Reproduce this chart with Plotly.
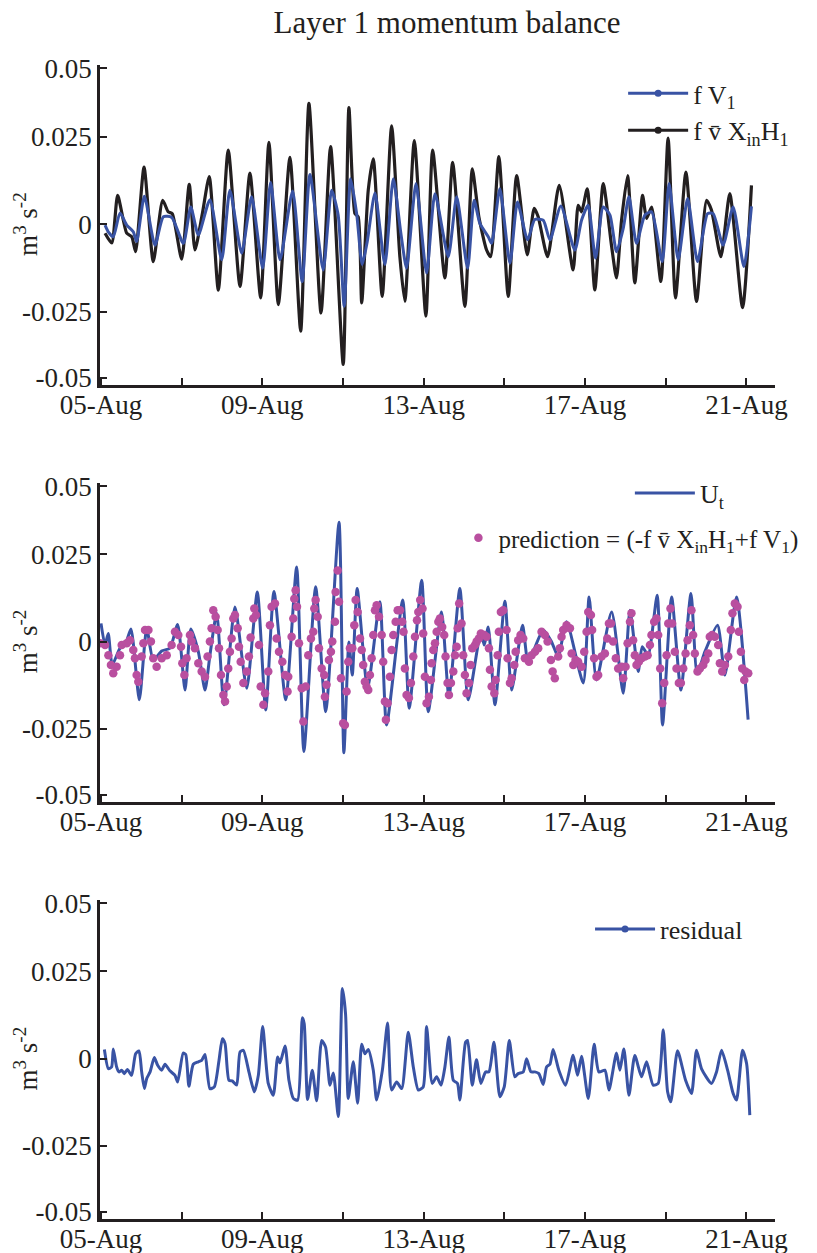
import pandas as pd
import plotly.graph_objects as go

# times are hours after 05-Aug 00:00, values are in 1e-3 m^3 s^-2
START = pd.Timestamp("2011-08-05")
TICK_LABELS = ["05-Aug", "09-Aug", "13-Aug", "17-Aug", "21-Aug"]

# panel 1: f*V1 (blue) and f*vbar*Xin*H1 (black)
BLACK_H = [2.4, 6.4, 9.9, 15.3, 18.3, 20.6, 25.6, 31.1, 36.7, 40.0, 42.4, 48.0, 52.5, 55.9, 60.3, 64.4, 69.8,
           75.7, 82.7, 88.6, 95.0, 99.9, 105.5, 112.4, 118.8, 123.7, 130.9, 136.6, 144.1, 147.5, 151.1, 153.0,
           155.1, 159.0, 162.0, 167.3, 172.9, 177.8, 180.8, 186.4, 193.3, 197.3, 204.6, 209.2, 216.5, 220.9,
           224.8, 229.4, 231.8, 236.7, 242.3, 247.3, 253.6, 257.7, 260.1, 265.7, 272.6, 280.9, 283.9, 285.9,
           289.3, 293.8, 298.8, 303.8, 306.7, 309.7, 313.3, 317.6, 322.2, 324.6, 327.6, 333.1, 337.4, 341.8,
           348.0, 354.3, 360.3, 363.2, 368.8, 374.1, 381.7, 387.0]
BLACK_V = [-2.6, -5.4, 8.2, -2.6, -3.6, -7.9, 16.3, -10.7, 6.8, 3.5, 3.0, -10.0, 11.4, -7.4, 3.0, 13.6, -18.9,
           21.2, -17.8, 14.6, -21.1, 23.4, -23.0, 19.1, -30.6, 34.5, -25.4, 22.2, -40.1, 33.3, 3.0, 2.1,
           -22.5, 9.7, 18.7, -20.7, 28.1, -9.3, -22.1, 23.9, -26.3, 21.2, -15.4, 17.7, -23.5, 15.8,
           2.1, -7.4, -9.3, 19.3, -20.7, 13.9, -8.8, 4.5, 2.1, -9.3, 11.1, -13.1, 5.4, 3.5,
           10.1, -18.8, 11.6, -6.4, -15.4, 1.1, 13.9, -16.8, 8.2, 1.6, 4.9, -16.4, 24.6, -21.1,
           14.9, -22.1, 6.8, 4.0, -9.3, 8.7, -23.9, 11.1]

FV1_H = [2.4, 4.3, 7.3, 11.3, 15.3, 19.2, 21.2, 25.8, 32.1, 37.1, 42.1, 49.0, 53.4, 57.9, 64.8, 71.8, 76.7,
         83.7, 89.6, 96.2, 100.9, 106.5, 114.0, 119.7, 124.3, 132.2, 137.2, 141.1, 144.7, 148.5, 152.1, 155.4,
         158.4, 163.0, 168.9, 173.9, 178.4, 181.8, 187.4, 193.7, 198.7, 206.6, 211.6, 218.1, 222.0, 225.4,
         230.4, 232.4, 237.3, 243.3, 247.8, 253.8, 258.1, 263.1, 267.1, 273.6, 281.9, 285.9, 289.8, 294.2,
         298.8, 302.8, 306.7, 310.7, 314.1, 318.6, 323.6, 327.6, 333.9, 338.0, 343.4, 349.0, 354.9, 360.9,
         364.2, 370.1, 376.1, 382.5, 387.0]
FV1_V = [-0.3, -2.2, -3.6, 3.2, -0.3, -2.2, -5.0, 8.0, -6.0, 2.1, 1.9, -5.5, 4.9, -3.1, 7.0, -10.2, 9.7,
         -8.3, 7.8, -12.6, 12.0, -10.2, 9.5, -16.4, 14.2, -13.1, 9.7, 2.6, -23.5, 13.0, 3.0, -11.6,
         -5.0, 8.9, -11.6, 13.0, -2.6, -12.6, 11.6, -14.0, 8.7, -9.3, 7.8, -12.6, 6.8, 0.2,
         -3.6, -5.5, 10.1, -11.2, 6.3, -4.5, 1.3, 1.1, -4.5, 5.2, -7.4, 1.1, 5.4, -9.7,
         4.9, 2.6, -7.9, -1.2, 7.8, -5.5, 2.6, 3.5, -10.7, 11.6, -10.2, 7.3, -10.7, 3.0,
         3.0, -6.0, 4.9, -12.1, 5.1]

# panel 2: U_t (line) and prediction (dots)
UT_H = [0.0, 2.4, 4.3, 6.7, 11.3, 14.3, 17.8, 22.8, 27.2, 31.1, 36.1, 41.0, 45.6, 50.0, 53.4, 57.9, 61.9, 64.8,
        68.8, 73.2, 79.7, 86.7, 93.0, 98.0, 102.9, 109.9, 116.4, 120.7, 127.7, 133.7, 141.6, 144.5, 147.5,
        149.5, 152.4, 158.6, 165.9, 169.9, 179.5, 183.4, 190.8, 194.7, 202.6, 207.0, 213.5, 218.5, 226.0,
        228.0, 230.4, 234.4, 240.3, 244.3, 250.8, 254.2, 263.1, 268.1, 272.0, 277.0, 286.9, 290.4, 294.8,
        303.8, 310.7, 314.7, 319.6, 322.0, 325.5, 330.9, 334.1, 339.5, 345.0, 351.0, 354.7, 359.3, 366.8,
        371.2, 378.1, 385.0]
UT_V = [5.2, -1.0, 2.3, -6.7, -1.9, -1.0, 3.6, -16.7, 3.8, -5.3, -2.7, -1.9, 4.9, -13.9, 3.6, -2.9, -13.9, -3.9,
        8.1, -18.1, 9.9, -13.4, 14.2, -19.6, 14.4, -16.7, 21.4, -31.5, 15.7, -20.1, 34.2, -31.9, -0.1,
        -9.6, 15.2, -13.4, 11.4, -23.9, 11.9, -19.1, 17.6, -20.1, 8.5, -15.8, 15.2, -16.7, 2.8,
        -1.0, 4.2, -18.1, 11.6, -13.9, 4.7, -5.8, 3.3, -0.1, -4.3, 5.7, -11.9, 12.8, -11.0,
        8.5, -14.8, 9.0, -8.6, -1.5, -3.9, 13.3, -23.9, 12.8, -13.9, 13.8, -9.1, -2.9, 4.7,
        -9.6, 12.8, -22.4]

PRED_H = [-0.6, 2.4, 4.4, 5.9, 7.3, 9.3, 11.3, 12.3, 15.3, 17.2, 19.2, 20.2, 21.2, 22.2, 24.2, 25.2, 26.2, 28.2,
          29.7, 31.1, 33.1, 36.1, 39.1, 42.0, 44.0, 46.0, 47.6, 48.4, 49.6, 50.9, 52.9, 53.9, 55.9, 57.9, 59.9,
          61.9, 63.4, 64.8, 65.8, 66.8, 68.2, 69.4, 70.2, 71.4, 72.8, 73.8, 74.8, 75.7, 76.7, 77.7, 78.7, 79.7,
          81.3, 82.1, 83.1, 84.7, 86.7, 88.0, 89.0, 90.6, 91.2, 92.2, 94.0, 95.0, 96.6, 97.6, 99.5, 100.5,
          101.5, 103.5, 104.5, 105.9, 107.9, 109.5, 111.0, 111.4, 113.4, 114.4, 115.0, 115.8, 116.6, 117.8,
          119.4, 120.4, 121.8, 123.3, 124.9, 126.3, 126.9, 127.7, 128.9, 129.7, 131.3, 132.8,
          133.2, 134.2, 135.6, 136.8, 137.6, 139.2, 139.6, 140.8, 141.6, 142.8, 144.1, 145.1, 146.1, 147.1,
          148.1, 149.5, 150.7, 151.5, 152.7, 154.1, 155.1, 156.0, 157.0, 158.0, 159.0, 160.0, 161.0, 162.0,
          163.0, 164.0, 165.4, 167.0, 167.9, 168.9, 169.5, 170.5, 171.9, 172.9, 173.9, 175.3, 176.5, 177.9,
          179.2, 180.0, 180.8, 181.8, 183.2, 184.4, 185.8, 186.8, 188.0, 188.8, 189.9, 191.3, 191.7, 192.7,
          193.7, 195.1, 196.3, 196.7, 197.7, 198.7, 199.7, 200.7, 201.6, 203.0, 204.2, 205.0, 206.2, 207.0,
          208.2, 209.6, 210.6, 211.6, 212.2, 213.1, 214.5, 215.5, 216.5, 217.5, 218.9, 219.9, 220.9, 222.5,
          223.5, 224.8, 226.0, 228.0, 229.4, 230.8, 231.4, 232.4, 234.0, 234.8, 236.0, 236.7, 237.9, 239.3,
          241.3, 241.9, 243.3, 244.3, 245.9, 246.7, 248.2, 249.6, 251.2, 252.2, 254.6, 256.2, 258.2, 260.1,
          262.1, 264.1, 265.7, 267.7, 268.7, 270.0,
          272.0, 273.0, 274.0, 275.0, 277.0, 279.0, 280.0, 281.0, 282.3, 283.9, 285.9, 287.5, 288.9, 289.9,
          291.5, 292.2, 293.4, 294.8, 295.8, 297.8, 299.8, 301.2, 302.2, 303.4, 304.7, 306.3, 307.7, 309.7,
          310.7, 312.1, 313.3, 314.7, 315.6, 316.6, 317.6, 318.6, 320.0, 321.6, 323.6, 325.2, 326.6, 327.5,
          329.1, 330.5, 331.5, 332.7, 333.9, 335.1, 336.5, 337.5, 338.8, 339.8, 341.4, 342.4, 343.8, 345.0,
          346.4, 347.8, 349.0, 350.3, 351.3, 352.3, 353.3, 354.9, 356.3, 358.3, 359.7, 361.3, 362.2, 363.6,
          365.2, 367.2, 368.2, 369.6, 371.2, 373.2, 374.7, 375.7, 377.1, 378.7, 379.5, 380.7, 381.5, 382.7,
          383.5, 385.1]
PRED_V = [-0.5, -1.0, -3.9, -6.7, -9.1, -7.2, -3.9, -1.0, -0.5, 0.4, -2.4, -4.8, -9.6, -11.5, -4.3, -0.5, 3.3, 3.3,
          0.0, -4.8, -7.2, -4.8, -3.9, -1.0, 2.8, 1.9, -1.5, -6.2, -9.6, -4.8, 1.9, 0.0, -1.9, -6.2, -8.6,
          -10.1, -4.3, 0.0, 3.8, 9.0, 7.1, 3.3, -1.9, -9.6, -15.3, -17.2, -12.9, -7.7, -2.9, 0.9, 6.6, 7.6,
          3.8, -1.5, -5.8, -11.9, -8.6, -4.3, 1.2, 6.6, 9.5, 7.6, -1.0, -12.9, -18.1, -14.8, -8.6, 4.7,
          10.0, 10.9, 0.9, -2.9, -5.8, -9.6, -14.3, -10.1, 1.4, 6.6, 12.3, 14.7, 10.0, -0.5,
          -13.4, -22.9, -12.9, -3.9, 0.9, 2.8, 9.5, 11.9, 7.1, -1.9, -7.7, -9.6,
          -15.8, -12.4, -5.3, -2.9, 0.0, 5.7, 14.2, 20.4, 11.4, -10.5, -23.4, -23.9, -14.3, -5.8,
          -1.9, -1.9, 4.7, 11.9, 8.5, 0.9, -2.4, -6.7, -11.5, -12.9, -13.9, -9.6, -4.8, 1.9,
          9.0, 10.4, 7.1, 1.9, -5.8, -17.2, -22.4, -17.7, -10.1, -2.4, 1.9, 5.7, 9.0, 9.0,
          5.7, 2.8, -7.7, -15.3, -16.2, -11.9, -4.3, 1.4, 6.1, 8.5, 11.9, 9.5, 2.3, -10.1,
          -17.7, -15.8, -11.0, -6.2, -2.4, -0.5, 2.8, 5.7, 6.6, 4.2, 1.9, -4.3, -11.9, -15.3,
          -11.9, -8.6, -3.9, -1.5, 3.8, 10.9, 5.2, -3.9, -9.6, -14.8, -11.9, -6.7, -1.9, -1.0,
          0.0, 0.9, 2.3, 1.9, 1.4, -1.9, -8.1, -12.9, -14.8, -11.0, -3.9, 2.8, 8.5, 9.0,
          3.3, -4.8, -11.9, -10.5, -6.7, -2.9, 0.4, 1.9, 0.9, -4.8, -5.8, -3.9, -2.9, -1.9,
          2.8, 1.9, 0.0, -5.3, -8.6, -10.5,
          -4.3, -1.9, 1.4, 3.3, 4.7, 3.8, -3.4, -6.7, -5.3, -5.8, -7.2, -2.9, 2.8, 8.5,
          7.6, 3.3, -4.8, -10.1, -9.6, -4.3, -3.4, 0.9, 5.2, 5.2, 0.0, -4.8, -7.7, -7.2,
          -10.5, -7.2, -0.5, 5.7, 8.1, 0.4, -3.9, -6.7, -5.8, -4.8, -4.3, -3.9, -1.0, 1.9,
          5.7, 6.6, 1.9, -7.7, -17.7, -11.9, -3.9, 5.2, 9.5, 5.2, -2.9, -7.7, -11.9, -11.9,
          -7.7, -3.4, 0.4, 4.7, 9.0, 1.9, -3.4, -8.6, -7.7, -6.7, -5.3, -3.4, 1.4, 1.9,
          1.4, -1.0, -6.2, -8.6, -6.7, -4.3, 3.3, 8.1, 10.9, 10.0, 2.8, -2.9, -7.7, -11.0,
          -8.6, -9.1]

# panel 3: residual
RES_H = [2.0, 4.4, 6.3, 7.3, 9.3, 10.7, 12.3, 13.9, 15.7, 18.2, 20.6, 22.6, 24.2, 25.8, 27.2, 29.2, 31.7, 33.7,
         36.1, 38.1, 41.0, 44.0, 45.6, 48.9, 50.4, 52.3, 54.9, 57.9, 59.9, 61.9, 64.8, 67.4, 70.2, 72.2, 73.8,
         76.1, 78.1, 80.7, 82.7, 84.7, 88.0, 91.2, 93.6, 96.2, 99.5, 102.5, 105.1, 106.5, 109.5, 111.8, 114.4,
         117.0, 119.8, 120.9, 122.9, 125.7, 128.3, 131.3, 133.6, 136.2, 138.2, 141.2, 143.6, 145.5, 147.1,
         150.1, 152.7, 155.1, 157.0, 159.0, 162.0, 164.0, 167.4, 170.5, 172.9, 175.9, 178.9, 182.8, 185.8,
         188.8, 191.7, 193.7, 197.1, 199.7, 202.3, 204.6, 207.0, 209.6, 212.1, 213.5, 216.9, 218.1, 220.9,
         223.4, 226.0, 228.8, 230.8, 233.8, 237.3, 239.9, 242.9, 246.2, 248.2, 251.2, 253.2, 255.8, 258.1,
         260.5, 263.1, 265.1, 267.1, 269.0, 272.4, 276.4, 280.9, 283.5, 285.9, 289.9, 293.4, 296.2, 299.8,
         302.2, 306.7, 308.7, 311.1, 314.1, 317.6, 321.6, 324.6, 328.5, 331.5, 334.5, 337.1, 339.0, 343.0,
         347.8, 351.3, 354.3, 357.3, 363.2, 366.2, 369.2, 372.8, 376.1, 378.1, 381.7, 384.1, 386.0]
RES_V = [2.6, -2.9, -2.4, 2.8, -2.4, -3.8, -3.3, -4.3, -3.1, -4.8, 1.4, 2.2, -3.8, -8.6, -5.7, -3.8, 0.3, -1.9,
         -3.3, -1.6, -3.5, -4.8, -6.7, 1.6, 1.2, -7.9, -1.6, -0.9, -0.5, 1.2, -8.6, -8.1, -0.5, 5.7, 4.3,
         -6.2, -6.4, -7.6, 1.9, 2.4, -3.8, -9.5, -4.8, 9.2, -7.1, -10.5, 0.5, -1.2, 3.6, -6.2, -11.4,
         -11.9, 11.7, 10.0, -11.7, -3.3, -12.1, 5.2, 3.3, -7.6, -4.1, -16.6, 20.1, 12.8, -11.4,
         -0.9, -12.8, 4.1, 1.4, 2.6, -3.3, -11.9, -3.3, 10.2, -9.0, -6.7, -8.6, 7.6, -2.4,
         -9.0, -8.1, 9.2, -7.1, -5.2, -7.6, -2.4, 6.2, -6.2, -7.1, -11.9, 4.7, 5.2, -7.6,
         -0.3, -7.1, -3.8, -3.8, 4.7, -10.9, -8.1, 5.2, -5.2, -4.3, -3.8, 0.0, -3.8, -3.8,
         -4.3, -7.4, -2.4, -1.6, 2.6, -3.3, -7.6, 1.0, -4.8, 0.7, -11.4, 4.1, -3.8, -3.3,
         -9.0, 1.6, -3.3, 2.8, -10.5, 0.9, -5.2, -0.9, -7.6, -7.1, 8.3, -9.5, -12.4, 2.3,
         -6.2, -10.0, 2.4, -2.9, -7.1, -3.8, 2.4, -3.3, -10.0, -11.9, 2.4, -1.4, -16.2]

BLUE = "#3953a4"
BLACK = "#231f20"
MAGENTA = "#b94f9f"
FONT = "Liberation Serif, Times New Roman, serif"


def to_time(hours):
    return START + pd.to_timedelta(hours, unit="h")


def scaled(values):
    return [v * 1e-3 for v in values]


fig = go.Figure()

# top panel
fig.add_trace(go.Scatter(x=to_time(BLACK_H), y=scaled(BLACK_V), mode="lines", showlegend=False,
                         line=dict(color=BLACK, width=3.2, shape="spline", smoothing=0.6),
                         xaxis="x", yaxis="y"))
fig.add_trace(go.Scatter(x=to_time(FV1_H), y=scaled(FV1_V), mode="lines", showlegend=False,
                         line=dict(color=BLUE, width=3, shape="spline", smoothing=0.6),
                         xaxis="x", yaxis="y"))
# legend-only entries (line with a dot, as in the original legend)
fig.add_trace(go.Scatter(x=[None], y=[None], mode="lines+markers", name="f V<sub>1</sub>",
                         line=dict(color=BLUE, width=3), marker=dict(color=BLUE, size=7),
                         xaxis="x", yaxis="y", legend="legend"))
fig.add_trace(go.Scatter(x=[None], y=[None], mode="lines+markers", name="f v\u0304 X<sub>in</sub>H<sub>1</sub>",
                         line=dict(color=BLACK, width=3), marker=dict(color=BLACK, size=7),
                         xaxis="x", yaxis="y", legend="legend"))

# middle panel
fig.add_trace(go.Scatter(x=to_time(UT_H), y=scaled(UT_V), mode="lines", name="U<sub>t</sub>",
                         line=dict(color=BLUE, width=3, shape="spline", smoothing=0.6),
                         xaxis="x2", yaxis="y2", legend="legend2"))
fig.add_trace(go.Scatter(x=to_time(PRED_H), y=scaled(PRED_V), mode="markers",
                         name="prediction = (-f v\u0304 X<sub>in</sub>H<sub>1</sub>+f V<sub>1</sub>)",
                         marker=dict(color=MAGENTA, size=8.5, line=dict(width=0)),
                         xaxis="x2", yaxis="y2", legend="legend3"))

# bottom panel
fig.add_trace(go.Scatter(x=to_time(RES_H), y=scaled(RES_V), mode="lines", showlegend=False,
                         line=dict(color=BLUE, width=3, shape="spline", smoothing=0.6),
                         xaxis="x3", yaxis="y3"))
fig.add_trace(go.Scatter(x=[None], y=[None], mode="lines+markers", name="residual",
                         line=dict(color=BLUE, width=3), marker=dict(color=BLUE, size=7),
                         xaxis="x3", yaxis="y3", legend="legend4"))

# axes: labelled ticks every 4 days, unlabelled ticks in between
major_dates = [START + pd.Timedelta(days=4 * k) for k in range(len(TICK_LABELS))]
minor_dates = [START + pd.Timedelta(days=4 * k + 2) for k in range(len(TICK_LABELS) - 1)]

x_range = [START - pd.Timedelta(minutes=36), START + pd.Timedelta(hours=401)]
y_range = [-0.046, 0.0455]
# the end labels sit just inside the frame, as in the source figure
y_ticks = [-0.044, -0.025, 0, 0.025, 0.0446]
y_text = ["-0.05", "-0.025", "0", "0.025", "0.05"]

common = dict(showline=True, linecolor=BLACK, linewidth=2.5, ticks="inside", ticklen=7,
              tickwidth=2, tickcolor=BLACK, showgrid=False, zeroline=False, automargin=False,
              tickfont=dict(family=FONT, size=27, color=BLACK))

domains = [[0.7227, 1.0], [0.3614, 0.6378], [0.0, 0.2764]]
layout_axes = {}
for i, dom in enumerate(domains):
    suffix = "" if i == 0 else str(i + 1)
    layout_axes["xaxis" + suffix] = dict(common, domain=[0, 1], range=x_range, type="date",
                                         tickmode="array", tickvals=major_dates, ticktext=TICK_LABELS,
                                         ticklabelstandoff=-6,
                                         minor=dict(tickmode="array", tickvals=minor_dates, ticks="inside",
                                                    ticklen=7, tickwidth=2, tickcolor=BLACK, showgrid=False),
                                         anchor="y" + suffix)
    layout_axes["yaxis" + suffix] = dict(common, domain=dom, range=y_range, tickmode="array",
                                         tickvals=y_ticks, ticktext=y_text, anchor="x" + suffix)

legend_style = dict(bgcolor="rgba(0,0,0,0)", font=dict(family=FONT, size=26, color=BLACK),
                    xanchor="left", yanchor="middle", itemwidth=60)

fig.update_layout(
    width=817,
    height=1253,
    margin=dict(l=100, r=42, t=65, b=34),
    paper_bgcolor="white",
    plot_bgcolor="white",
    font=dict(family=FONT, color=BLACK),
    title=dict(text="Layer 1 momentum balance", x=447 / 817, xref="container", xanchor="center",
               y=1 - 22 / 1253, yref="container", yanchor="middle",
               font=dict(family=FONT, size=31, color=BLACK)),
    legend=dict(legend_style, x=0.775, y=0.9593),
    legend2=dict(legend_style, x=0.785, y=0.6291),
    legend3=dict(legend_style, x=0.531, y=0.5901, itemwidth=30, font=dict(family=FONT, size=25, color=BLACK)),
    legend4=dict(legend_style, x=0.726, y=0.2513),
    **layout_axes,
)

# y-axis titles, centred on zero of each panel
for suffix in ["", "2", "3"]:
    fig.add_annotation(text="m<sup>3</sup> s<sup>-2</sup>", textangle=-90, showarrow=False,
                       xref="paper", x=-0.11, xanchor="center",
                       yref="y" + suffix, y=0, yanchor="middle",
                       font=dict(family=FONT, size=27, color=BLACK))

fig.write_html("out.html", config={"displayModeBar": False},
               post_script="document.body.style.margin='0';")
